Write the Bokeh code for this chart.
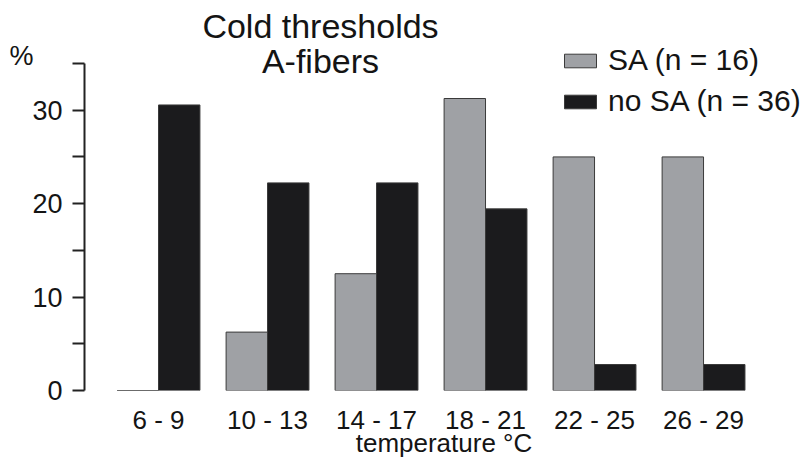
from bokeh.plotting import figure
from bokeh.models import (Range1d, FixedTicker, Label, Legend,
                          LegendItem, ColumnDataSource, LinearAxis)
from bokeh.transform import dodge
from bokeh.embed import file_html
from bokeh.resources import INLINE

categories = ["6 - 9", "10 - 13", "14 - 17", "18 - 21", "22 - 25", "26 - 29"]
sa_values = [0, 6.25, 12.5, 31.25, 25, 25]
nosa_values = [30.56, 22.22, 22.22, 19.44, 2.78, 2.78]
series_labels = ["SA (n = 16)", "no SA (n = 36)"]
y_ticks = [0, 10, 20, 30]
y_minor_ticks = [5, 15, 25, 35]

FONT = "Liberation Sans"
TXT = "#141414"

positions = list(range(len(categories)))
src = ColumnDataSource(dict(pos=positions, cat=categories,
                            sa=sa_values, nosa=nosa_values))

p = figure(width=803, height=461,
           x_range=Range1d(-0.679, 5.917),
           y_range=Range1d(0, 41.74),
           output_backend="svg", toolbar_location=None,
           min_border_left=84, min_border_right=0,
           min_border_top=0, min_border_bottom=71)

r1 = p.vbar(x=dodge("pos", -0.19), top="sa", width=0.38,
            source=src, fill_color="#9fa1a5", line_color="#3a3a3a", line_width=1)
r2 = p.vbar(x=dodge("pos", 0.19), top="nosa", width=0.38,
            source=src, fill_color="#1b1b1d", line_color="#3a3a3a", line_width=1)

p.xgrid.visible = False
p.ygrid.visible = False
p.outline_line_color = None
p.background_fill_color = "white"

xa = p.xaxis[0]
xa.ticker = FixedTicker(ticks=positions, minor_ticks=[])
xa.major_label_overrides = {i: c for i, c in zip(positions, categories)}
xa.axis_line_color = None
xa.major_tick_line_color = None
xa.minor_tick_line_color = None
xa.major_label_text_font = FONT
xa.major_label_text_font_size = "26px"
xa.major_label_text_color = TXT
xa.major_label_standoff = 8
xa.axis_label = "temperature \u00b0C"
xa.axis_label_text_font = FONT
xa.axis_label_text_font_size = "26px"
xa.axis_label_text_font_style = "normal"
xa.axis_label_text_color = TXT
xa.axis_label_standoff = -10

ya = p.yaxis[0]
ya.ticker = FixedTicker(ticks=y_ticks, minor_ticks=y_minor_ticks)
ya.bounds = (0, 35)
ya.axis_line_width = 2
ya.axis_line_color = "#222222"
ya.major_tick_line_width = 2
ya.minor_tick_line_width = 2
ya.major_tick_line_color = "#222222"
ya.minor_tick_line_color = "#222222"
ya.major_tick_out = 12
ya.major_tick_in = 0
ya.minor_tick_out = 12
ya.minor_tick_in = 0
ya.major_label_text_font = FONT
ya.major_label_text_font_size = "27px"
ya.major_label_text_color = TXT
ya.major_label_standoff = 10

# unit label "%" carried by a line-less axis next to the value axis
unit_pos = 35.75
unit_axis = LinearAxis(ticker=FixedTicker(ticks=[unit_pos], minor_ticks=[]),
                       bounds=(35.5, 36.0), axis_line_color=None,
                       major_tick_line_color=None, minor_tick_line_color=None,
                       major_tick_out=0, major_tick_in=0,
                       major_label_overrides={unit_pos: "%"},
                       major_label_standoff=-4, major_label_text_font=FONT,
                       major_label_text_font_size="27px",
                       major_label_text_color=TXT)
p.add_layout(unit_axis, "left")

def add_label(text, x, y, size, align="center"):
    p.add_layout(Label(x=x, y=y, text=text, text_font=FONT,
                       text_font_size=size, text_color=TXT,
                       text_align=align, text_baseline="alphabetic"))

add_label("Cold thresholds", 1.486, 39.0, "34px")
add_label("A-fibers", 1.486, 35.26, "34px")

legend = Legend(items=[LegendItem(label=series_labels[0], renderers=[r1]),
                       LegendItem(label=series_labels[1], renderers=[r2])],
                location=(476, 272), glyph_width=40, glyph_height=17,
                label_text_font=FONT, label_text_font_size="30px",
                label_text_color=TXT, spacing=7, padding=0, margin=0,
                border_line_color=None, background_fill_alpha=0,
                label_standoff=8)
p.add_layout(legend)

open("out.html", "w").write(file_html(p, INLINE))
